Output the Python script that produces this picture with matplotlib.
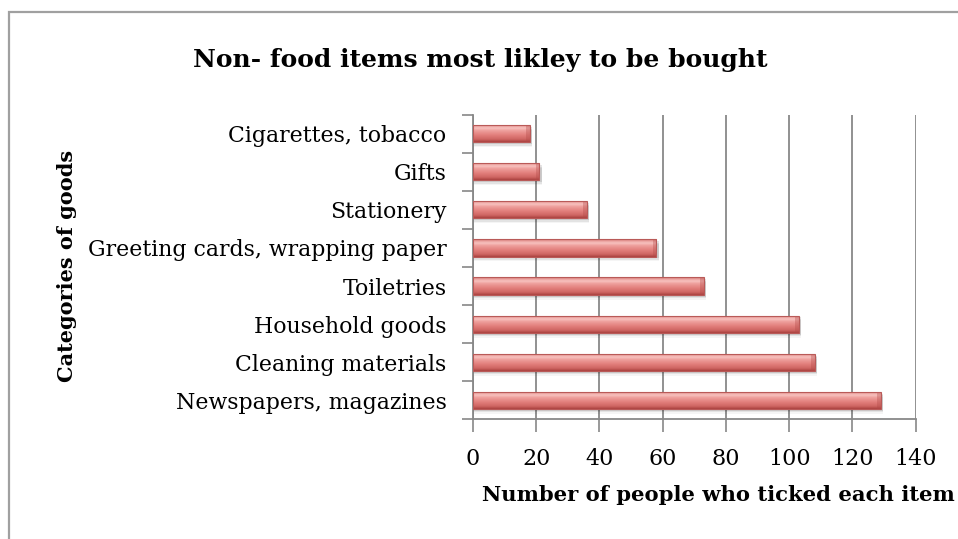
import numpy as np
import matplotlib
matplotlib.use('Agg')
import matplotlib.pyplot as plt
from matplotlib.colors import LinearSegmentedColormap
from matplotlib.patches import Rectangle

# Daten
categories = ['Newspapers, magazines', 'Cleaning materials', 'Household goods', 'Toiletries',
              'Greeting cards, wrapping paper', 'Stationery', 'Gifts', 'Cigarettes, tobacco']
counts = [129, 108, 103, 73, 58, 36, 21, 18]
x_ticks = [0, 20, 40, 60, 80, 100, 120, 140]

title = 'Non- food items most likley to be bought'
x_label = 'Number of people who ticked each item'
y_label = 'Categories of goods'

plt.rcParams['font.family'] = ['DejaVu Serif']

fig = plt.figure(figsize=(9.58, 5.39), dpi=100)
W, H = 958, 539
ax = fig.add_axes([473 / W, 1 - 419.3 / H, (915.7 - 473) / W, (419.3 - 114.7) / H])

# Rahmen um das Diagramm
fig.patches.append(Rectangle((9 / W, -0.1), 1.2, 1 - 12 / H + 0.1, transform=fig.transFigure,
                             fill=False, edgecolor='#a0a0a0', linewidth=1.6, zorder=0))

y = np.arange(len(categories))
bars = ax.barh(y, counts, height=0.45, color='none', edgecolor='none', zorder=3)

# Farbverlauf fuer die Balken (Excel-Stil), oben hell, unten dunkel
grad = LinearSegmentedColormap.from_list('bar', [
    (0.0, '#c86a68'), (0.08, '#e89a97'), (0.22, '#f8c3c0'), (0.36, '#ee9f9c'),
    (0.6, '#e3807d'), (0.85, '#cf6663'), (1.0, '#a9403e')])
img = np.linspace(0, 1, 64).reshape(-1, 1)
for b in bars:
    x0, y0, w, h = b.get_x(), b.get_y(), b.get_width(), b.get_height()
    # weicher Schatten unter dem Balken
    for dy, a in [(0.05, 0.10), (0.09, 0.07), (0.13, 0.04)]:
        ax.add_patch(Rectangle((x0, y0 - dy), w + 0.8, h, facecolor='#000000', alpha=a,
                               edgecolor='none', zorder=2))
    im = ax.imshow(img, cmap=grad, aspect='auto', extent=(x0, x0 + w, y0, y0 + h),
                   interpolation='bicubic', zorder=3)
    clip = Rectangle((x0, y0), w, h, transform=ax.transData)
    im.set_clip_path(clip)
    # Abschraegung am Balkenende
    ax.add_patch(Rectangle((x0 + w - 1.2, y0), 1.2, h, facecolor='#b24a48', alpha=0.35,
                           edgecolor='none', zorder=4))
    ax.add_patch(Rectangle((x0, y0), w, h, fill=False, edgecolor='#b95a58', linewidth=0.8, zorder=4))

ax.set_xlim(0, 140)
ax.set_ylim(-0.5, len(categories) - 0.5)
ax.set_xticks(x_ticks)
ax.set_xticklabels([str(t) for t in x_ticks], fontsize=16)
ax.set_yticks(y)
ax.set_yticklabels(categories, fontsize=15.8)
ax.set_yticks(np.arange(-0.5, len(categories), 1), minor=True)
ax.tick_params(axis='y', which='major', length=0, pad=19)
ax.tick_params(axis='y', which='minor', length=8, color='#888888', width=1.2)
ax.tick_params(axis='x', which='major', length=9, color='#888888', width=1.2, pad=12)

ax.grid(axis='x', color='#888888', linewidth=1.3, zorder=0)
ax.set_axisbelow(True)
for s in ['top', 'right']:
    ax.spines[s].set_visible(False)
for s in ['left', 'bottom']:
    ax.spines[s].set_color('#888888')
    ax.spines[s].set_linewidth(1.3)

fig.text(480 / W, 1 - 60 / H, title, ha='center', va='center', fontsize=18, fontweight='bold')
fig.text(482 / W, 1 - 495 / H, x_label, ha='left', va='center', fontsize=15.2, fontweight='bold')
fig.text(67 / W, 1 - 266 / H, y_label, ha='center', va='center', rotation=90, fontsize=15,
         fontweight='bold')

fig.savefig('out.png', dpi=100)
